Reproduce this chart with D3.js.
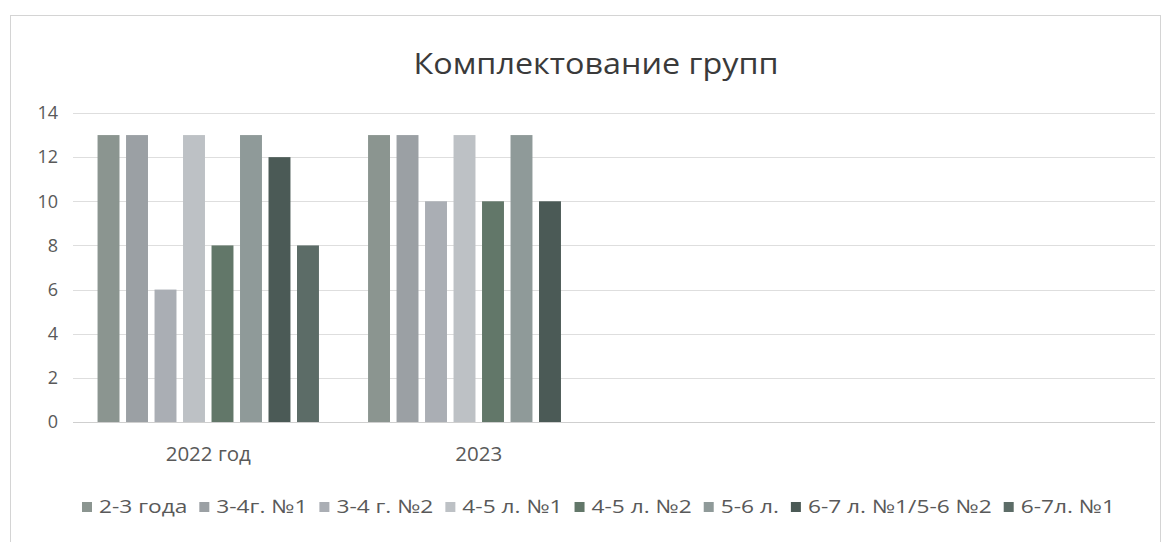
<!DOCTYPE html>
<html>
<head>
<meta charset="utf-8">
<script src="https://cdn.jsdelivr.net/npm/d3@7"></script>
<style>
  html, body { margin: 0; padding: 0; background: #fff; }
  svg { display: block; }
  text { font-family: "Open Sans", "Noto Sans", sans-serif; }
</style>
</head>
<body>
<svg id="chart" width="1169" height="542"></svg>
<script>
// ---- data ----
const title = "Комплектование групп";
const categories = ["2022 год", "2023", "", ""];
const seriesNames = ["2-3 года", "3-4г. №1", "3-4 г. №2", "4-5 л. №1", "4-5 л. №2", "5-6 л.", "6-7 л. №1/5-6 №2", "6-7л. №1"];
const values2022 = [13, 13, 6, 13, 8, 13, 12, 8];
const values2023 = [13, 13, 10, 13, 10, 13, 10, null];
const yTicks = [0, 2, 4, 6, 8, 10, 12, 14];
const seriesColors = ["#8b9590", "#9ba0a4", "#aaaeb4", "#bdc1c5", "#627769", "#8f9a99", "#4b5a56", "#5c6c67"];

const valuesByCategory = [values2022, values2023, [], []];

// ---- layout ----
const svg = d3.select("#chart");
const plot = { left: 73, right: 1155, top: 113, bottom: 422 };

// chart border
svg.append("rect")
  .attr("x", 10.5).attr("y", 15.5)
  .attr("width", 1150).attr("height", 540)
  .attr("fill", "none").attr("stroke", "#d4d4d4").attr("stroke-width", 1);

// title
svg.append("text")
  .attr("x", 596).attr("y", 74)
  .attr("text-anchor", "middle")
  .attr("fill", "#3a3a3a")
  .attr("font-size", 30)
  .attr("textLength", 365).attr("lengthAdjust", "spacingAndGlyphs")
  .text(title);

const x = d3.scaleBand()
  .domain(d3.range(categories.length))
  .range([plot.left, plot.right])
  .padding(0);

const y = d3.scaleLinear().domain([0, 14]).range([plot.bottom, plot.top]);

// gridlines
svg.append("g")
  .selectAll("line")
  .data(yTicks)
  .join("line")
  .attr("x1", plot.left).attr("x2", plot.right)
  .attr("y1", d => Math.round(y(d)) + 0.5).attr("y2", d => Math.round(y(d)) + 0.5)
  .attr("stroke", d => d === 0 ? "#cfcfcf" : "#dedede")
  .attr("stroke-width", 1);

// y axis labels
const yAxis = d3.axisLeft(y).tickValues(yTicks).tickSize(0).tickPadding(0);
const yg = svg.append("g").attr("transform", `translate(${plot.left - 15},0)`).call(yAxis);
yg.select(".domain").remove();
yg.selectAll("text").attr("font-size", 18).attr("fill", "#595959")
  .attr("font-family", "'Open Sans', sans-serif");

// x axis labels
const xAxis = d3.axisBottom(x).tickFormat(i => categories[i]).tickSize(0).tickPadding(0);
const xg = svg.append("g").attr("transform", `translate(0,${plot.bottom + 24})`).call(xAxis);
xg.select(".domain").remove();
xg.selectAll("text").attr("font-size", 20.5).attr("fill", "#595959")
  .attr("font-family", "'Open Sans', sans-serif");

// bars
const groupWidth = 221.4;
const xSub = d3.scaleBand().domain(d3.range(seriesNames.length))
  .range([0, groupWidth]).paddingInner(0.23).paddingOuter(0);

const groups = svg.append("g").selectAll("g")
  .data(valuesByCategory)
  .join("g")
  .attr("transform", (d, i) => `translate(${x(i) + x.bandwidth() / 2 - groupWidth / 2},0)`);

groups.selectAll("rect")
  .data(d => d.map((v, j) => ({ v, j })).filter(e => e.v != null))
  .join("rect")
  .attr("x", d => xSub(d.j))
  .attr("width", xSub.bandwidth())
  .attr("y", d => y(d.v))
  .attr("height", d => y(0) - y(d.v))
  .attr("fill", d => seriesColors[d.j]);

// legend
const legend = svg.append("g");
const legendFont = 18.5;
const items = legend.selectAll("g").data(seriesNames).join("g");
items.append("rect").attr("width", 10).attr("height", 10)
  .attr("y", -1)
  .attr("fill", (d, i) => seriesColors[i]);
items.append("text").attr("y", 10)
  .attr("font-size", legendFont).attr("fill", "#595959")
  .text(d => d);
const textW = [];
items.select("text").each(function () { textW.push(this.getComputedTextLength()); });
const markerW = 17, gap = 12;
const totalText = d3.sum(textW);
const targetText = 1033 - markerW * seriesNames.length - gap * (seriesNames.length - 1);
const scaleL = targetText / totalText;
let cx = 82;
items.attr("transform", (d, i) => {
  const t = `translate(${cx},503)`;
  cx += markerW + textW[i] * scaleL + gap;
  return t;
});
items.select("text")
  .attr("x", markerW)
  .attr("textLength", (d, i) => textW[i] * scaleL)
  .attr("lengthAdjust", "spacingAndGlyphs");
</script>
</body>
</html>
